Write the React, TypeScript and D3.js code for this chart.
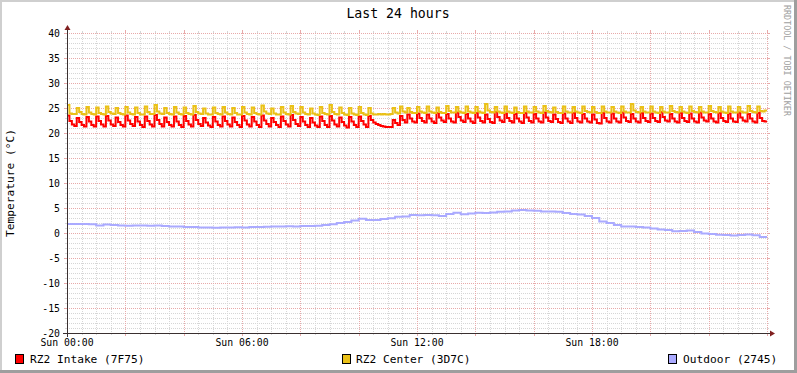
import React from "react";
import * as d3 from "d3";

const title = "Last 24 hours";
const yLabel = "Temperature (°C)";
const watermark = "RRDTOOL / TOBI OETIKER";
const yTicks = [40, 35, 30, 25, 20, 15, 10, 5, 0, -5, -10, -15, -20];
const xLabelHours = [0, 6, 12, 18];
const xLabels = ["Sun 00:00", "Sun 06:00", "Sun 12:00", "Sun 18:00"];
const seriesNames = ["RZ2 Intake (7F75)", "RZ2 Center (3D7C)", "Outdoor (2745)"];
const seriesColors = ["#ff0000", "#eac117", "#aaaaff"];

// 5-minute samples (12 per hour)
const intake = [
  23.5, 22.4, 21.7, 21.4, 23.0, 22.2, 21.6, 21.3, 23.2, 22.3, 21.6, 21.3,
  23.3, 22.4, 21.7, 21.3, 23.4, 22.5, 21.7, 21.4, 23.1, 22.2, 21.6, 21.3,
  23.5, 22.5, 21.8, 21.4, 23.2, 22.3, 21.6, 21.2, 23.3, 22.4, 21.7, 21.3,
  23.6, 22.6, 21.8, 21.3, 23.1, 22.2, 21.6, 21.3, 23.3, 22.3, 21.6, 21.2,
  23.4, 22.4, 21.7, 21.3, 23.6, 22.6, 21.8, 21.4, 23.0, 22.1, 21.5, 21.2,
  23.2, 22.3, 21.6, 21.3, 23.3, 22.4, 21.7, 21.3, 23.1, 22.2, 21.6, 21.2,
  23.4, 22.5, 21.7, 21.3, 23.2, 22.3, 21.6, 21.2, 23.5, 22.5, 21.8, 21.3,
  23.0, 22.2, 21.6, 21.2, 23.3, 22.4, 21.7, 21.3, 23.6, 22.6, 21.8, 21.4,
  23.2, 22.3, 21.6, 21.2, 23.0, 22.1, 21.5, 21.2, 23.3, 22.4, 21.6, 21.2,
  23.4, 22.5, 21.7, 21.3, 23.1, 22.2, 21.5, 21.1, 23.2, 22.3, 21.6, 21.2,
  23.3, 22.4, 21.7, 21.2, 23.4, 22.6, 22.1, 21.8, 21.6, 21.4, 21.3, 21.2,
  21.2, 21.2, 22.6, 22.0, 21.6, 23.4, 22.6, 22.1, 23.7, 22.9, 22.3, 22.1,
  23.9, 23.0, 22.4, 22.1, 23.7, 22.9, 22.3, 22.0, 24.0, 23.1, 22.5, 22.2,
  23.8, 22.9, 22.3, 22.1, 24.1, 23.2, 22.5, 22.2, 23.8, 22.9, 22.3, 22.0,
  24.0, 23.1, 22.4, 22.1, 23.7, 22.8, 22.2, 22.0, 24.2, 23.2, 22.5, 22.2,
  23.9, 23.0, 22.4, 22.1, 23.8, 22.9, 22.3, 22.0, 24.0, 23.1, 22.4, 22.1,
  23.8, 22.9, 22.3, 22.1, 24.1, 23.1, 22.4, 22.2, 23.7, 22.8, 22.2, 22.0,
  23.9, 22.9, 22.3, 22.0, 24.0, 23.0, 22.3, 22.1, 23.8, 22.9, 22.3, 22.1,
  23.7, 22.7, 22.0, 21.9, 24.0, 23.0, 22.3, 22.1, 23.9, 22.9, 22.3, 22.1,
  24.1, 23.1, 22.4, 22.2, 23.8, 22.9, 22.3, 22.1, 24.0, 23.0, 22.4, 22.2,
  23.9, 23.0, 22.4, 22.2, 24.2, 23.2, 22.5, 22.3, 23.8, 22.9, 22.3, 22.1,
  24.0, 23.0, 22.4, 22.2, 23.9, 22.9, 22.3, 22.1, 24.1, 23.1, 22.5, 22.3,
  23.8, 22.9, 22.3, 22.1, 24.0, 23.0, 22.4, 22.2, 23.9, 22.9, 22.3, 22.2,
  24.1, 23.1, 22.5, 22.3, 23.8, 22.9, 22.3, 22.1, 24.0, 23.0, 22.4, 22.3,
];

const center = [
  25.6, 23.9, 23.8, 23.8, 25.0, 24.2, 23.8, 23.7, 25.2, 24.1, 23.8, 23.7,
  25.1, 24.0, 23.8, 23.7, 25.3, 24.2, 23.9, 23.8, 25.0, 24.0, 23.8, 23.7,
  25.2, 24.1, 23.8, 23.7, 25.1, 24.0, 23.7, 23.7, 25.3, 24.2, 23.8, 23.8,
  25.6, 24.3, 23.9, 23.8, 25.0, 24.0, 23.8, 23.7, 25.2, 24.1, 23.8, 23.7,
  25.1, 24.0, 23.8, 23.7, 25.4, 24.2, 23.9, 23.8, 24.9, 23.9, 23.7, 23.7,
  25.1, 24.0, 23.8, 23.7, 25.2, 24.1, 23.8, 23.7, 25.0, 24.0, 23.7, 23.7,
  25.2, 24.1, 23.8, 23.7, 25.1, 24.0, 23.8, 23.7, 25.5, 24.3, 23.9, 23.8,
  24.9, 23.9, 23.7, 23.7, 25.2, 24.1, 23.8, 23.7, 25.4, 24.2, 23.9, 23.8,
  25.2, 24.1, 23.8, 23.7, 24.9, 23.9, 23.7, 23.6, 25.2, 24.0, 23.8, 23.7,
  25.6, 24.2, 23.8, 23.7, 25.1, 24.0, 23.7, 23.6, 25.0, 23.9, 23.7, 23.6,
  25.2, 24.0, 23.7, 23.6, 25.0, 23.9, 23.7, 23.7, 23.8, 23.7, 23.8, 23.7,
  23.7, 23.8, 25.0, 24.1, 23.9, 25.3, 24.3, 24.1, 25.0, 24.2, 24.0, 24.0,
  25.2, 24.3, 24.1, 24.0, 25.3, 24.3, 24.1, 24.0, 25.1, 24.2, 24.0, 24.0,
  25.4, 24.4, 24.1, 24.1, 25.2, 24.3, 24.1, 24.0, 25.3, 24.3, 24.1, 24.0,
  25.2, 24.3, 24.1, 24.0, 25.8, 24.5, 24.2, 24.1, 25.2, 24.3, 24.1, 24.0,
  25.3, 24.3, 24.1, 24.0, 25.1, 24.2, 24.0, 24.0, 25.3, 24.3, 24.1, 24.1,
  25.2, 24.3, 24.1, 24.0, 25.4, 24.4, 24.2, 24.1, 25.1, 24.2, 24.0, 24.0,
  25.3, 24.3, 24.1, 24.1, 25.2, 24.3, 24.1, 24.0, 25.3, 24.4, 24.2, 24.1,
  25.2, 24.2, 24.0, 24.0, 25.3, 24.3, 24.1, 24.1, 25.2, 24.3, 24.1, 24.0,
  25.3, 24.3, 24.1, 24.1, 25.8, 24.5, 24.2, 24.1, 25.2, 24.3, 24.1, 24.1,
  25.3, 24.3, 24.1, 24.0, 25.2, 24.3, 24.1, 24.1, 25.4, 24.4, 24.2, 24.1,
  25.2, 24.3, 24.1, 24.0, 25.3, 24.4, 24.2, 24.1, 25.2, 24.3, 24.1, 24.1,
  25.4, 24.4, 24.2, 24.1, 25.2, 24.3, 24.1, 24.0, 25.3, 24.3, 24.1, 24.1,
  25.2, 24.3, 24.1, 24.1, 25.4, 24.4, 24.2, 24.1, 25.3, 24.4, 24.3, 24.5,
];

// 15-minute samples (4 per hour)
const outdoor = [
  1.8, 1.8, 1.8, 1.75, 1.5, 1.7, 1.6, 1.5, 1.45, 1.5, 1.5, 1.45,
  1.5, 1.4, 1.3, 1.3, 1.2, 1.2, 1.1, 1.1, 1.05, 1.1, 1.1, 1.15,
  1.1, 1.2, 1.2, 1.25, 1.3, 1.3, 1.35, 1.3, 1.4, 1.4, 1.45, 1.6,
  1.75, 2.0, 2.2, 2.5, 2.85, 2.6, 2.6, 2.8, 2.95, 3.25, 3.3, 3.6,
  3.55, 3.6, 3.55, 3.4, 3.8, 4.05, 3.75, 3.9, 4.05, 4.0, 4.1, 4.25,
  4.3, 4.5, 4.6, 4.5, 4.45, 4.3, 4.3, 4.25, 4.0, 3.8, 3.7, 3.4,
  3.0, 2.3, 2.0, 1.6, 1.3, 1.3, 1.2, 1.1, 0.9, 0.7, 0.6, 0.35,
  0.4, 0.5, 0.2, -0.1, -0.2, -0.35, -0.4, -0.5, -0.4, -0.3, -0.45, -0.8,
];

const W = 797;
const H = 373;
const X0 = 67;
const X1 = 767;
const Y0 = 333;
const Y1 = 33;
const MONO = "'DejaVu Sans Mono', monospace";

export default function App() {
  const x = d3.scaleLinear().domain([0, 24]).range([X0, X1]);
  const y = d3.scaleLinear().domain([-20, 40]).range([Y0, Y1]);

  const toPts = (arr: number[]) => {
    const step = 24 / arr.length;
    const pts: [number, number][] = arr.map((v, i) => [i * step, v]);
    pts.push([24, arr[arr.length - 1]]);
    return pts;
  };
  const line = d3
    .line<[number, number]>()
    .x((d) => x(d[0]))
    .y((d) => y(d[1]))
    .curve(d3.curveStepAfter);

  const series = [intake, center, outdoor];

  const minorY = d3.range(-20, 41, 1).filter((v) => v % 5 !== 0);
  const majorY = d3.range(-20, 41, 5);
  const minorX = d3.range(0, 24.01, 0.5).filter((h) => h % 2 !== 0);
  const majorX = d3.range(0, 24.01, 2);

  const gridMinor = "#d6d6d6";
  const gridMajor = "#e8aaaa";
  const axisCol = "#3a3030";
  const arrowCol = "#801f1f";

  const legendSquareX = [15, 342, 668];
  const legendTextX = [30, 356, 683];

  return (
    <svg
      width={W}
      height={H}
      style={{ position: "absolute", left: 0, top: 0, display: "block" }}
      shapeRendering="crispEdges"
    >
      <rect x={0} y={0} width={W} height={H} fill="#ffffff" />
      {/* 3D frame */}
      <rect x={0} y={0} width={W} height={2} fill="#cfcfcf" />
      <rect x={0} y={0} width={2} height={H} fill="#cfcfcf" />
      <rect x={0} y={H - 3} width={W} height={3} fill="#9e9e9e" />
      <rect x={W - 3} y={0} width={3} height={H} fill="#9e9e9e" />

      {/* minor grid */}
      {minorY.map((v) => (
        <g key={"my" + v}>
          <line x1={X0} x2={X1} y1={y(v) + 0.5} y2={y(v) + 0.5} stroke={gridMinor} strokeDasharray="1,1" />
          <line x1={X0 - 2} x2={X0} y1={y(v) + 0.5} y2={y(v) + 0.5} stroke={gridMinor} />
          <line x1={X1} x2={X1 + 2} y1={y(v) + 0.5} y2={y(v) + 0.5} stroke={gridMinor} />
        </g>
      ))}
      {minorX.map((h) => (
        <g key={"mx" + h}>
          <line x1={Math.round(x(h)) + 0.5} x2={Math.round(x(h)) + 0.5} y1={Y1} y2={Y0} stroke={gridMinor} strokeDasharray="1,1" />
          <line x1={Math.round(x(h)) + 0.5} x2={Math.round(x(h)) + 0.5} y1={Y0} y2={Y0 + 2} stroke={gridMinor} />
          <line x1={Math.round(x(h)) + 0.5} x2={Math.round(x(h)) + 0.5} y1={Y1 - 2} y2={Y1} stroke={gridMinor} />
        </g>
      ))}
      {/* major grid */}
      {majorY.map((v) => (
        <g key={"My" + v}>
          <line x1={X0} x2={X1} y1={y(v) + 0.5} y2={y(v) + 0.5} stroke={gridMajor} strokeDasharray="1,1" />
          <line x1={X0 - 3} x2={X0} y1={y(v) + 0.5} y2={y(v) + 0.5} stroke={gridMajor} />
          <line x1={X1} x2={X1 + 3} y1={y(v) + 0.5} y2={y(v) + 0.5} stroke={gridMajor} />
        </g>
      ))}
      {majorX.map((h) => (
        <g key={"Mx" + h}>
          <line x1={Math.round(x(h)) + 0.5} x2={Math.round(x(h)) + 0.5} y1={Y1} y2={Y0} stroke={gridMajor} strokeDasharray="1,1" />
          <line x1={Math.round(x(h)) + 0.5} x2={Math.round(x(h)) + 0.5} y1={Y0} y2={Y0 + 3} stroke={gridMajor} />
          <line x1={Math.round(x(h)) + 0.5} x2={Math.round(x(h)) + 0.5} y1={Y1 - 3} y2={Y1} stroke={gridMajor} />
        </g>
      ))}

      {/* series */}
      <g shapeRendering="auto">
        {series.map((s, i) => (
          <path
            key={"s" + i}
            d={line(toPts(s)) || ""}
            fill="none"
            stroke={seriesColors[i]}
            strokeWidth={2}
            strokeLinejoin="miter"
          />
        ))}
      </g>

      {/* axes */}
      <line x1={X0 - 4} x2={X1 + 4} y1={Y0 + 0.5} y2={Y0 + 0.5} stroke={axisCol} />
      <line x1={X0 + 0.5} x2={X0 + 0.5} y1={Y0 + 4} y2={Y1 - 4} stroke={axisCol} />
      <path
        d={`M${X1 + 8},${Y0 + 0.5} L${X1 + 3},${Y0 - 2.5} L${X1 + 3},${Y0 + 3.5} Z`}
        fill={arrowCol}
        shapeRendering="auto"
      />
      <path
        d={`M${X0 + 0.5},${Y1 - 8} L${X0 - 2.5},${Y1 - 3} L${X0 + 3.5},${Y1 - 3} Z`}
        fill={arrowCol}
        shapeRendering="auto"
      />

      {/* y tick labels */}
      {yTicks.map((v) => (
        <text
          key={"yt" + v}
          x={X0 - 7}
          y={y(v) + 3.5}
          textAnchor="end"
          fontFamily={MONO}
          fontSize={9.8}
          fill="#000"
        >
          {v}
        </text>
      ))}
      {/* x labels */}
      {xLabelHours.map((h, i) => (
        <text
          key={"xt" + h}
          x={x(h)}
          y={345.5}
          textAnchor="middle"
          fontFamily={MONO}
          fontSize={9.8}
          fill="#000"
        >
          {xLabels[i]}
        </text>
      ))}

      {/* title */}
      <text x={398} y={18} textAnchor="middle" fontFamily={MONO} fontSize={13.2} fill="#000">
        {title}
      </text>
      {/* y axis label */}
      <text
        transform={`translate(14,${(Y0 + Y1) / 2}) rotate(-90)`}
        textAnchor="middle"
        fontFamily={MONO}
        fontSize={11.2}
        fill="#000"
      >
        {yLabel}
      </text>
      {/* watermark */}
      <text
        transform={`translate(784,5) rotate(90)`}
        textAnchor="start"
        fontFamily={MONO}
        fontSize={8.4}
        fill="#a0a0a0"
      >
        {watermark}
      </text>

      {/* legend */}
      {seriesNames.map((n, i) => (
        <g key={"lg" + i}>
          <rect
            x={legendSquareX[i] + 0.5}
            y={354.5}
            width={8}
            height={9}
            fill={seriesColors[i]}
            stroke="#000"
          />
          <text x={legendTextX[i]} y={363} fontFamily={MONO} fontSize={11.2} fill="#000">
            {n}
          </text>
        </g>
      ))}
    </svg>
  );
}
